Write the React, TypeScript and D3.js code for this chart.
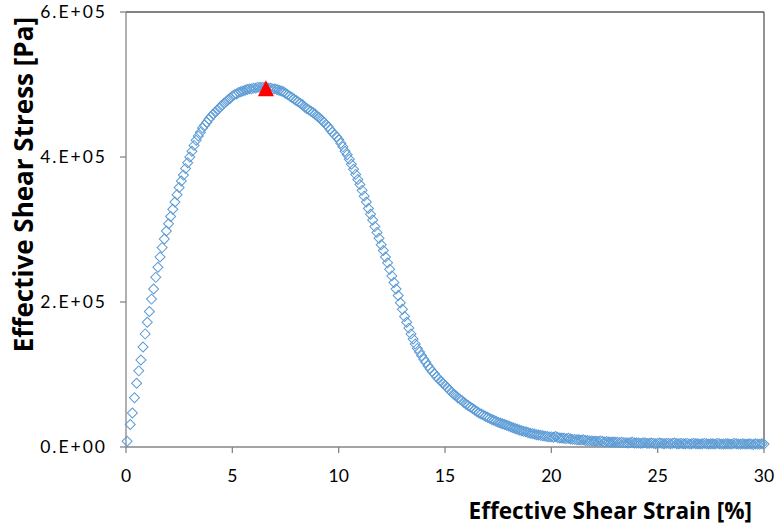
import React from "react";
import * as d3 from "d3";

// Effective shear strain [%]
const STRAIN: number[] = [
  0.05,
  0.2, 0.3, 0.4, 0.5, 0.6, 0.7, 0.8, 0.9, 1.0,
  1.1, 1.2, 1.3, 1.4, 1.5, 1.6, 1.7, 1.8, 1.9, 2.0,
  2.1, 2.2, 2.3, 2.4, 2.5, 2.6, 2.7, 2.8, 2.9, 3.0,
  3.1, 3.2, 3.3, 3.4, 3.5, 3.6, 3.7, 3.8, 3.9, 4.0,
  4.1, 4.2, 4.3, 4.4, 4.5, 4.6, 4.7, 4.8, 4.9, 5.0,
  5.1, 5.2, 5.3, 5.4, 5.5, 5.6, 5.7, 5.8, 5.9, 6.0,
  6.1, 6.2, 6.3, 6.4, 6.5, 6.6, 6.7, 6.8, 6.9, 7.0,
  7.1, 7.2, 7.3, 7.4, 7.5, 7.6, 7.7, 7.8, 7.9, 8.0,
  8.1, 8.2, 8.3, 8.4, 8.5, 8.6, 8.7, 8.8, 8.9, 9.0,
  9.1, 9.2, 9.3, 9.4, 9.5, 9.6, 9.7, 9.8, 9.9, 10.0,
  10.1, 10.2, 10.3, 10.4, 10.5, 10.6, 10.7, 10.8, 10.9, 11.0,
  11.1, 11.2, 11.3, 11.4, 11.5, 11.6, 11.7, 11.8, 11.9, 12.0,
  12.1, 12.2, 12.3, 12.4, 12.5, 12.6, 12.7, 12.8, 12.9, 13.0,
  13.1, 13.2, 13.3, 13.4, 13.5, 13.6, 13.7, 13.8, 13.9, 14.0,
  14.1, 14.2, 14.3, 14.4, 14.5, 14.6, 14.7, 14.8, 14.9, 15.0,
  15.1, 15.2, 15.3, 15.4, 15.5, 15.6, 15.7, 15.8, 15.9, 16.0,
  16.1, 16.2, 16.3, 16.4, 16.5, 16.6, 16.7, 16.8, 16.9, 17.0,
  17.1, 17.2, 17.3, 17.4, 17.5, 17.6, 17.7, 17.8, 17.9, 18.0,
  18.1, 18.2, 18.3, 18.4, 18.5, 18.6, 18.7, 18.8, 18.9, 19.0,
  19.1, 19.2, 19.3, 19.4, 19.5, 19.6, 19.7, 19.8, 19.9, 20.0,
  20.1, 20.2, 20.3, 20.4, 20.5, 20.6, 20.7, 20.8, 20.9, 21.0,
  21.1, 21.2, 21.3, 21.4, 21.5, 21.6, 21.7, 21.8, 21.9, 22.0,
  22.1, 22.2, 22.3, 22.4, 22.5, 22.6, 22.7, 22.8, 22.9, 23.0,
  23.1, 23.2, 23.3, 23.4, 23.5, 23.6, 23.7, 23.8, 23.9, 24.0,
  24.1, 24.2, 24.3, 24.4, 24.5, 24.6, 24.7, 24.8, 24.9, 25.0,
  25.1, 25.2, 25.3, 25.4, 25.5, 25.6, 25.7, 25.8, 25.9, 26.0,
  26.1, 26.2, 26.3, 26.4, 26.5, 26.6, 26.7, 26.8, 26.9, 27.0,
  27.1, 27.2, 27.3, 27.4, 27.5, 27.6, 27.7, 27.8, 27.9, 28.0,
  28.1, 28.2, 28.3, 28.4, 28.5, 28.6, 28.7, 28.8, 28.9, 29.0,
  29.1, 29.2, 29.3, 29.4, 29.5, 29.6, 29.7, 29.8, 29.9, 30.0,
];

// Effective shear stress [kPa]
const STRESS_KPA: number[] = [
  8,
  31, 47, 68, 88, 105, 120, 138, 156, 172,
  187, 204, 218, 234, 248, 262, 275, 287, 298, 308,
  318, 328, 338, 348, 358, 367, 375, 384, 392, 400,
  408, 416, 423, 429, 434, 440, 444, 448, 452, 456,
  459, 462, 465, 468, 471, 474, 476, 479, 481, 484,
  486, 487, 489, 490, 491, 492, 493, 494, 494, 495,
  495, 496, 496, 496, 496, 496, 495, 495, 494, 494,
  493, 492, 491, 490, 488, 486, 484, 482, 480, 478,
  476, 474, 472, 469, 467, 465, 463, 461, 459, 456,
  454, 451, 448, 445, 442, 438, 434, 431, 428, 424,
  419, 414, 408, 403, 397, 390, 383, 376, 369, 362,
  354, 346, 338, 329, 321, 313, 304, 296, 288, 279,
  271, 262, 254, 245, 236, 227, 218, 209, 199, 190,
  180, 172, 164, 156, 149, 142, 136, 131, 126, 121,
  117, 112, 108, 104, 101, 97, 94, 91, 88, 85,
  82, 79, 76, 73, 71, 68, 66, 64, 61, 59,
  57, 55, 53, 51, 49, 47, 45.5, 44, 42.5, 41,
  39.5, 38, 37, 35.5, 34, 33, 32, 31, 30, 29,
  27.5, 26.5, 25.5, 24.5, 23.5, 22.5, 21.5, 21, 20, 19,
  18.5, 18, 17, 16.5, 16, 15.5, 15, 14.5, 14, 14,
  13.5, 14.5, 13, 12.5, 12.5, 12, 11.5, 12, 11, 10.5,
  10.5, 10, 10, 9.5, 10, 9, 9, 8.5, 8.5, 8,
  8, 7.5, 8.5, 7.5, 7, 7.5, 7, 6.5, 7, 6.5,
  6.5, 6, 6.5, 6, 6, 5.5, 6, 6.5, 5.5, 5.5,
  5.5, 5, 5.5, 6, 5, 5, 5.5, 5, 4.5, 5,
  5.5, 5, 4.5, 5, 5, 4.5, 5, 5.5, 4.5, 4.5,
  5, 4.5, 4.5, 5, 4, 4.5, 5, 4.5, 4.5, 4,
  4.5, 5, 4.5, 4, 4.5, 4.5, 4, 5, 4.5, 4,
  4, 4.5, 4.5, 4, 4, 5, 4.5, 4, 4, 4.5,
  4, 4, 4.5, 4, 3.5, 4.5, 4, 4, 4.5, 4,
];

const KPA = 1000;

// Peak marker (strain %, stress kPa)
const PEAK_STRAIN = [6.58];
const PEAK_STRESS_KPA = [495];

const X_TICKS = [0, 5, 10, 15, 20, 25, 30];
const X_TICK_LABELS = ["0", "5", "10", "15", "20", "25", "30"];
const Y_TICKS = [0, 200000, 400000, 600000];
const Y_TICK_LABELS = ["0.E+00", "2.E+05", "4.E+05", "6.E+05"];

const X_TITLE = "Effective Shear Strain [%]";
const Y_TITLE = "Effective Shear Stress [Pa]";

const W = 776;
const H = 529;
const PLOT = { left: 126, right: 764, top: 12, bottom: 447 };

export default function App() {
  const x = d3.scaleLinear().domain([0, 30]).range([PLOT.left, PLOT.right]);
  const y = d3.scaleLinear().domain([0, 600000]).range([PLOT.bottom, PLOT.top]);

  const diamond = d3.symbol(d3.symbolSquare, 50)() as string;

  const pts = STRAIN.map((s, i) => ({ s, t: STRESS_KPA[i] * KPA }));
  const peaks = PEAK_STRAIN.map((s, i) => ({ s, t: PEAK_STRESS_KPA[i] * KPA }));

  const font = "Lato, 'Open Sans', sans-serif";
  const titleFont = "'Open Sans', Lato, sans-serif";

  return (
    <svg
      width={W}
      height={H}
      viewBox={`0 0 ${W} ${H}`}
      style={{ position: "absolute", left: 0, top: 0, background: "#fff" }}
    >
      <rect x={0} y={0} width={W} height={H} fill="#fff" />
      {/* plot frame */}
      <line x1={PLOT.left} x2={PLOT.right} y1={PLOT.top} y2={PLOT.top} stroke="#595959" strokeWidth={1.3} />
      <line x1={PLOT.right} x2={PLOT.right} y1={PLOT.top} y2={PLOT.bottom} stroke="#595959" strokeWidth={1.3} />
      <line x1={PLOT.left} x2={PLOT.left} y1={PLOT.top} y2={PLOT.bottom} stroke="#868686" strokeWidth={1.3} />
      <line x1={PLOT.left} x2={PLOT.right} y1={PLOT.bottom} y2={PLOT.bottom} stroke="#868686" strokeWidth={1.3} />

      {/* x ticks */}
      {X_TICKS.map((t, i) => (
        <g key={"xt" + i}>
          <line x1={x(t)} x2={x(t)} y1={PLOT.bottom} y2={PLOT.bottom + 6} stroke="#868686" strokeWidth={1.3} />
          <text x={x(t)} y={482} textAnchor="middle" fontFamily={font} fontSize={17.5} fill="#000">
            {X_TICK_LABELS[i]}
          </text>
        </g>
      ))}
      {/* y ticks */}
      {Y_TICKS.map((t, i) => (
        <g key={"yt" + i}>
          <line x1={PLOT.left - 6} x2={PLOT.left} y1={y(t)} y2={y(t)} stroke="#868686" strokeWidth={1.3} />
          <text
            x={107}
            y={y(t) + 6}
            textAnchor="end"
            fontFamily={font}
            fontSize={17.5}
            letterSpacing={2}
            fill="#000"
          >
            {Y_TICK_LABELS[i]}
          </text>
        </g>
      ))}

      {/* series */}
      <g>
        {pts.map((d, i) => (
          <path
            key={"p" + i}
            d={diamond}
            transform={`translate(${x(d.s)},${y(d.t)}) rotate(45)`}
            fill="none"
            stroke="#5B9BD5"
            strokeWidth={1}
          />
        ))}
      </g>
      {peaks.map((d, i) => {
        const cx = x(d.s);
        const cy = y(d.t);
        return (
          <path
            key={"pk" + i}
            d={`M${cx},${cy - 8}L${cx + 8},${cy + 8}L${cx - 8},${cy + 8}Z`}
            fill="#FF0000"
          />
        );
      })}

      {/* titles */}
      <text x={752} y={519} textAnchor="end" fontFamily={titleFont} fontWeight="bold" fontSize={22.6} fill="#000">
        {X_TITLE}
      </text>
      <text
        transform={`translate(33,17) rotate(-90)`}
        textAnchor="end"
        fontFamily={titleFont}
        fontWeight="bold"
        fontSize={26}
        fill="#000"
      >
        {Y_TITLE}
      </text>
    </svg>
  );
}
